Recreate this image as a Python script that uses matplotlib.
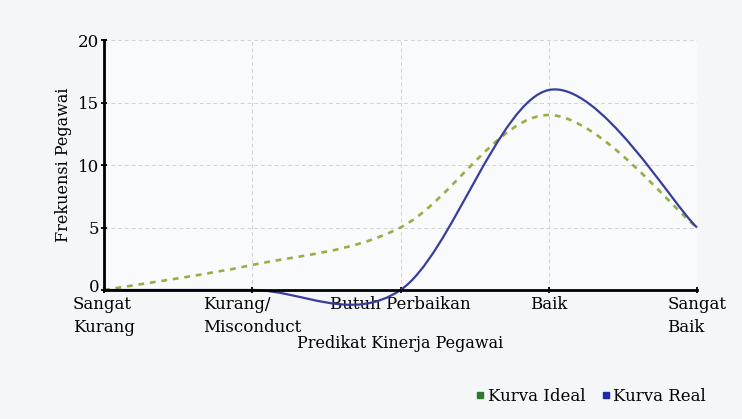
import numpy as np
import matplotlib
matplotlib.use("Agg")
import matplotlib.pyplot as plt
import matplotlib.transforms as mtransforms
from matplotlib.path import Path
from matplotlib.patches import PathPatch
from matplotlib.lines import Line2D

categories = ["Sangat\nKurang", "Kurang/\nMisconduct", "Butuh Perbaikan", "Baik", "Sangat\nBaik"]
ideal = [0, 2, 5, 14, 5]
real = [0, 0, 0, 16, 5]
yticks = [0, 5, 10, 15, 20]

plt.rcParams['font.family'] = ['DejaVu Serif']


def smooth_path(xs, ys):
    # excel-style smoothed line: cubic bezier, tangents from neighbours / 6
    pts = np.column_stack([xs, ys]).astype(float)
    n = len(pts)
    verts = [pts[0]]
    codes = [Path.MOVETO]
    for i in range(n - 1):
        p0 = pts[i - 1] if i > 0 else pts[i]
        p3 = pts[i + 2] if i + 2 < n else pts[i + 1]
        c1 = pts[i] + (pts[i + 1] - p0) / 6.0
        c2 = pts[i + 1] - (p3 - pts[i]) / 6.0
        verts += [c1, c2, pts[i + 1]]
        codes += [Path.CURVE4] * 3
    return Path(verts, codes)


fig = plt.figure(figsize=(7.42, 4.19), dpi=100, facecolor='#f4f6f8')
ax = fig.add_axes([104 / 742, 1 - 290 / 419, (697 - 104) / 742, 250 / 419])
ax.set_facecolor('#f9fafb')

x = np.arange(len(categories))
ax.add_patch(PathPatch(smooth_path(x, ideal), fill=False, edgecolor='#93b043',
                       lw=1.9, ls=(0, (2.2, 2.2)), clip_on=False, zorder=3))
ax.add_patch(PathPatch(smooth_path(x, real), fill=False, edgecolor='#383d9c',
                       lw=1.6, clip_on=False, zorder=4))

ax.set_xlim(0, len(categories) - 1)
ax.set_ylim(0, 20)
ax.set_yticks(yticks)
ax.set_xticks(x)
ax.set_xticklabels(categories, fontsize=12, multialignment='left', linespacing=1.45)
ax.tick_params(axis='both', direction='inout', length=5, width=1.3, colors='black',
               labelsize=12)
ax.tick_params(axis='x', pad=2)
ax.tick_params(axis='y', pad=1)

# lift the "0" a little so it does not sit on "Sangat"
zero = ax.yaxis.get_major_ticks()[0].label1
zero.set_transform(zero.get_transform() +
                   mtransforms.ScaledTranslation(0, 3 / 72, fig.dpi_scale_trans))

ax.grid(True, color='#cfd2d6', ls=(0, (4, 3)), lw=0.7)
for s in ['top', 'right']:
    ax.spines[s].set_visible(False)
for s in ['left', 'bottom']:
    ax.spines[s].set_linewidth(2)
    ax.spines[s].set_color('black')
    ax.spines[s].set_zorder(5)

ax.set_ylabel("Frekuensi Pegawai", fontsize=11.5)
ax.set_xlabel("Predikat Kinerja Pegawai", fontsize=11.5)
ax.xaxis.set_label_coords(0.5, -0.18)
ax.yaxis.set_label_coords(-0.054, 0.5)

handles = [
    Line2D([], [], ls='none', marker='s', ms=5, color='#2e7a2e', label='Kurva Ideal'),
    Line2D([], [], ls='none', marker='s', ms=5, color='#1a2aa8', label='Kurva Real'),
]
fig.legend(handles=handles, loc='center right', bbox_to_anchor=(0.972, 0.053),
           ncol=2, frameon=False, fontsize=12, handletextpad=0.0,
           columnspacing=0.8, handlelength=0.9)

fig.savefig("out.png", dpi=100, facecolor=fig.get_facecolor())
